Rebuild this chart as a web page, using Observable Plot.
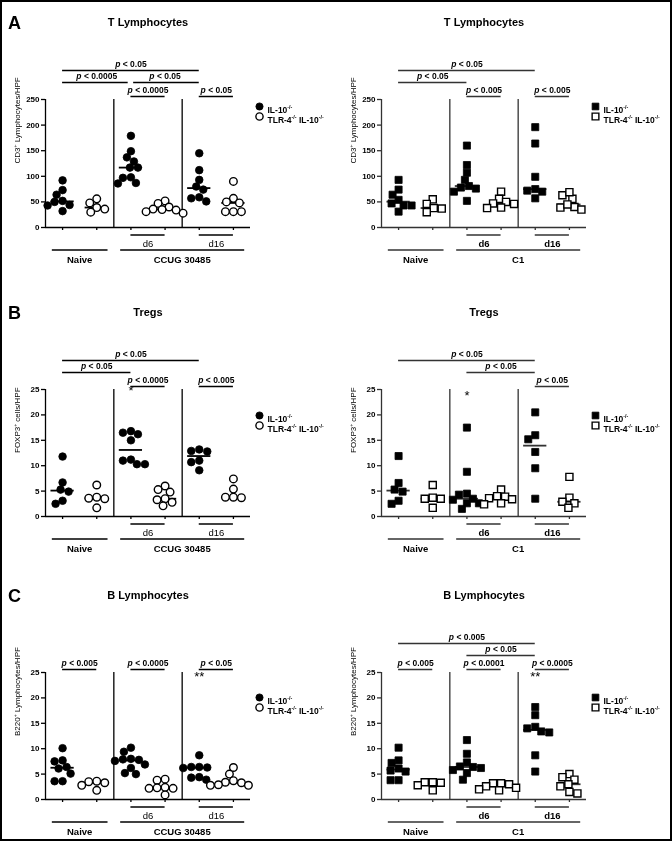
<!DOCTYPE html>
<html>
<head>
<meta charset="utf-8">
<script src="https://cdn.jsdelivr.net/npm/d3@7"></script>
<script src="https://cdn.jsdelivr.net/npm/@observablehq/plot@0.6"></script>
<style>
  body { margin: 0; background: #fff; }
  #fig { position: relative; width: 672px; height: 841px; overflow: hidden; background: #fff;
         font-family: "Liberation Sans", Arial, sans-serif; }
  #frame { position: absolute; left: 0; top: 0; width: 672px; height: 841px; box-sizing: border-box;
           border: 2px solid #000; pointer-events: none; }
  .panel { position: absolute; will-change: transform; }
</style>
</head>
<body>
<div id="fig"><div id="frame"></div></div>
<script>
// ---------- DATA ----------
// group order: Naive IL-10-/-, Naive TLR-4-/- IL-10-/-, d6 IL-10, d6 TLR-4, d16 IL-10, d16 TLR-4
const groupNames = ["Naive IL-10-/-", "Naive TLR-4-/- IL-10-/-", "d6 IL-10-/-", "d6 TLR-4-/- IL-10-/-", "d16 IL-10-/-", "d16 TLR-4-/- IL-10-/-"];

const cd3_ccug = [
  [92, 64, 73, 52, 50, 43, 44, 32],
  [56, 48, 39, 36, 30],
  [179, 149, 137, 129, 117, 117, 98, 86, 87, 97],
  [52, 47, 40, 36, 35, 31, 28, 34],
  [145, 112, 93, 80, 74, 59, 57, 51],
  [90, 57, 50, 48, 31, 31, 31]
];
const cd3_c1 = [
  [93, 74, 64, 54, 47, 43, 43, 31],
  [55, 46, 38, 37, 30],
  [160, 122, 107, 93, 81, 76, 70, 78, 52],
  [70, 56, 50, 47, 46, 39, 38],
  [196, 164, 99, 75, 70, 72, 57],
  [63, 56, 69, 40, 35, 39, 45]
];
const foxp3_ccug = [
  [11.8, 6.7, 5.3, 4.9, 3.1, 2.5],
  [6.2, 3.6, 3.5, 3.8, 1.7],
  [16.5, 16.2, 16.8, 15.0, 11.0, 10.3, 10.3, 11.2],
  [6.0, 5.3, 4.8, 3.5, 3.3, 2.8, 2.1],
  [13.2, 12.8, 12.9, 11.0, 10.7, 9.1],
  [7.4, 5.4, 3.8, 3.8, 3.7]
];
const foxp3_c1 = [
  [11.9, 6.6, 5.3, 4.9, 3.1, 2.5],
  [6.2, 3.5, 3.5, 3.7, 1.7],
  [17.5, 8.8, 4.3, 4.5, 3.5, 3.3, 2.6, 2.6, 1.5],
  [5.3, 4.0, 3.9, 3.6, 3.4, 2.6, 2.4],
  [20.5, 16.0, 15.2, 12.7, 9.5, 3.5],
  [7.8, 3.7, 2.9, 2.6, 1.7]
];
const b220_ccug = [
  [10.1, 7.7, 7.5, 6.4, 6.1, 5.1, 3.6, 3.6],
  [3.5, 3.6, 3.3, 2.8, 1.8],
  [10.2, 9.4, 8.0, 7.9, 7.8, 7.6, 6.9, 6.2, 5.2, 5.0],
  [4.0, 3.8, 2.4, 2.2, 2.2, 2.3, 0.9],
  [8.7, 6.4, 6.3, 6.4, 6.2, 4.4, 3.9, 4.3],
  [6.3, 5.0, 3.7, 3.4, 3.3, 2.9, 2.8, 2.8]
];
const b220_c1 = [
  [10.2, 7.7, 7.2, 6.1, 5.7, 5.5, 3.8, 3.8],
  [3.3, 3.4, 3.4, 2.8, 1.8],
  [11.7, 9.0, 7.3, 6.5, 6.4, 6.2, 5.8, 5.2, 3.9],
  [3.2, 3.0, 3.2, 2.6, 2.3, 2.0, 1.8],
  [18.2, 16.6, 14.3, 14.0, 13.4, 13.2, 8.7, 5.5],
  [5.0, 4.4, 3.9, 3.0, 2.6, 1.5, 1.2]
];

// significance brackets: [from group, to group, stacking level, label]
const cd3_ccug_p = [[0, 4, 3, "p < 0.05"], [0, 2, 2, "p < 0.0005"], [2, 4, 2, "p < 0.05"], [2, 3, 1, "p < 0.0005"], [4, 5, 1, "p < 0.05"]];
const cd3_c1_p = [[0, 4, 3, "p < 0.05"], [0, 2, 2, "p < 0.05"], [2, 3, 1, "p < 0.005"], [4, 5, 1, "p < 0.005"]];
const foxp3_ccug_p = [[0, 4, 3, "p < 0.05"], [0, 2, 2, "p < 0.05"], [2, 3, 1, "p < 0.0005"], [4, 5, 1, "p < 0.005"]];
const foxp3_c1_p = [[0, 4, 3, "p < 0.05"], [2, 4, 2, "p < 0.05"], [4, 5, 1, "p < 0.05"]];
const b220_ccug_p = [[0, 1, 1, "p < 0.005"], [2, 3, 1, "p < 0.0005"], [4, 5, 1, "p < 0.05"]];
const b220_c1_p = [[0, 4, 3, "p < 0.005"], [2, 4, 2, "p < 0.05"], [0, 1, 1, "p < 0.005"], [2, 3, 1, "p < 0.0001"], [4, 5, 1, "p < 0.0005"]];

// asterisks: [group, label]
const foxp3_ccug_star = [[2, "*"]];
const foxp3_c1_star = [[2, "*"]];
const b220_ccug_star = [[4, "**"]];
const b220_c1_star = [[4, "**"]];

// bottom labels
const timeLabels = [[2, 3, "d6"], [4, 5, "d16"]];
const ccugGroups = [[0, 1, "Naive"], [2, 5, "CCUG 30485"]];
const c1Groups = [[0, 1, "Naive"], [2, 5, "C1"]];

const legendLabels = ["IL-10^{-/-}", "TLR-4^{-/-} IL-10^{-/-}"];
const titles = ["T Lymphocytes", "Tregs", "B Lymphocytes"];
const yLabels = ["CD3^{+} Lymphocytes/HPF", "FOXP3^{+} cells/HPF", "B220^{+} Lymphocytes/HPF"];
const yTicksA = [0, 50, 100, 150, 200, 250];
const yTicksBC = [0, 5, 10, 15, 20, 25];

// ---------- PANEL SETUP ----------
const panels = [
  {letter: "A", title: titles[0], yLabel: yLabels[0], values: cd3_ccug, brackets: cd3_ccug_p, stars: [], starDy: 0, ticks: yTicksA, groups: ccugGroups, symbol: "circle", left: 0, top: 0, height: 280, mt: 99, mb: 53, legendDy: 7, color: "#000", subWeight: "normal"},
  {letter: "", title: titles[0], yLabel: yLabels[0], values: cd3_c1, brackets: cd3_c1_p, stars: [], starDy: 0, ticks: yTicksA, groups: c1Groups, symbol: "square", left: 336, top: 0, height: 280, mt: 99, mb: 53, legendDy: 7, color: "#333", subWeight: "bold"},
  {letter: "B", title: titles[1], yLabel: yLabels[1], values: foxp3_ccug, brackets: foxp3_ccug_p, stars: foxp3_ccug_star, starDy: 1.5, ticks: yTicksBC, groups: ccugGroups, symbol: "circle", left: 0, top: 280, height: 280, mt: 109, mb: 44, legendDy: 26, color: "#000", subWeight: "normal"},
  {letter: "", title: titles[1], yLabel: yLabels[1], values: foxp3_c1, brackets: foxp3_c1_p, stars: foxp3_c1_star, starDy: 6, ticks: yTicksBC, groups: c1Groups, symbol: "square", left: 336, top: 280, height: 280, mt: 109, mb: 44, legendDy: 26, color: "#333", subWeight: "bold"},
  {letter: "C", title: titles[2], yLabel: yLabels[2], values: b220_ccug, brackets: b220_ccug_p, stars: b220_ccug_star, starDy: 4, ticks: yTicksBC, groups: ccugGroups, symbol: "circle", left: 0, top: 560, height: 281, mt: 112, mb: 42, legendDy: 25, color: "#000", subWeight: "normal"},
  {letter: "", title: titles[2], yLabel: yLabels[2], values: b220_c1, brackets: b220_c1_p, stars: b220_c1_star, starDy: 4, ticks: yTicksBC, groups: c1Groups, symbol: "square", left: 336, top: 560, height: 281, mt: 112, mb: 42, legendDy: 25, color: "#333", subWeight: "bold"}
];

// deterministic swarm: spread points of similar value sideways (pixel units)
function swarm(values, pxPerUnit, diam, step) {
  const order = d3.range(values.length).sort((a, b) => values[b] - values[a]);
  const placed = [];
  const off = new Array(values.length);
  for (const i of order) {
    const y = values[i] * pxPerUnit;
    for (let k = 0; k < 400; k++) {
      const c = k === 0 ? 0 : (k % 2 ? -Math.ceil(k / 2) * step : Math.ceil(k / 2) * step);
      if (placed.every(p => (p.x - c) ** 2 + (p.y - y) ** 2 >= diam * diam)) {
        off[i] = c; placed.push({x: c, y}); break;
      }
    }
  }
  return off;
}

function makePanel(cfg) {
  const W = 336, H = cfg.height, mL = 45, mR = 86;
  const yMax = cfg.ticks[cfg.ticks.length - 1];
  const pxCat = (W - mL - mR) / 6;
  const pxY = (H - cfg.mt - cfg.mb) / yMax;
  const col = cfg.color;
  const sw = 1.3;
  const r = cfg.symbol === "circle" ? 3.8 : 4.0;

  const pts = [];
  cfg.values.forEach((vals, g) => {
    const off = swarm(vals, pxY, 7.3, 1);
    vals.forEach((v, i) => pts.push({g, v, x: g + off[i] / pxCat, filled: g % 2 === 0}));
  });
  const meds = cfg.values.map((vals, g) => ({g, m: d3.median(vals)}));

  const br = cfg.brackets.map(([a, b, l, t]) => ({a, b, l, t}));
  br.forEach(d => {
    d.x1 = d.a + (br.some(o => o !== d && o.l === d.l && o.b === d.a) ? 0.08 : 0);
    d.x2 = d.b - (br.some(o => o !== d && o.l === d.l && o.a === d.b) ? 0.08 : 0);
  });
  const levelOff = {1: 3, 2: 17, 3: 29};
  const topY = () => yMax;
  const zeroY = () => 0;

  const marks = [
    Plot.ruleY(meds, {y: "m", x1: d => d.g - 0.34, x2: d => d.g + 0.34, stroke: col, strokeWidth: 1.8}),
    Plot.ruleX([1.5, 3.5], {stroke: col, strokeWidth: sw}),
    Plot.ruleX([-0.5], {stroke: col, strokeWidth: sw}),
    Plot.ruleY([0], {stroke: col, strokeWidth: sw}),
    Plot.axisY({ticks: cfg.ticks, tickSize: 4, tickPadding: 2, fontSize: 8, fontWeight: "bold", stroke: col, strokeWidth: sw, fill: "#000", label: null}),
    Plot.axisX({ticks: [0, 1, 2, 3, 4, 5], tickSize: 3, tickFormat: () => "", stroke: col, strokeWidth: sw, label: null}),
    Plot.dot(pts.filter(d => d.filled), {x: "x", y: "v", r, symbol: cfg.symbol, fill: "#000", stroke: "#000", strokeWidth: 0.8}),
    Plot.dot(pts.filter(d => !d.filled), {x: "x", y: "v", r, symbol: cfg.symbol, fill: "#fff", stroke: "#000", strokeWidth: 1.4}),
    // title, letter, y label
    Plot.text([cfg.title], {frameAnchor: "top", dy: -81, fontSize: 11, fontWeight: "bold", letterSpacing: 0.9, fill: "#000"}),
    Plot.text([cfg.yLabel], {frameAnchor: "left", dx: -28, rotate: -90, fontSize: 8, fill: "#000"})
  ];
  if (cfg.letter) marks.push(Plot.text([cfg.letter], {frameAnchor: "top-left", dx: -31, dy: -83, fontSize: 18, fontWeight: "bold", textAnchor: "middle", fill: "#000"}));

  // legend
  [0, 1].forEach(k => {
    marks.push(Plot.dot([k], {frameAnchor: "top-right", dx: 9, dy: cfg.legendDy + k * 10, r: r * 0.95, symbol: cfg.symbol,
      fill: k === 0 ? "#000" : "#fff", stroke: "#000", strokeWidth: k === 0 ? 0.8 : 1.4}));
    marks.push(Plot.text([legendLabels[k]], {frameAnchor: "top-right", dx: 17, dy: cfg.legendDy + k * 10, textAnchor: "start",
      fontSize: 8.5, fontWeight: "bold", letterSpacing: 0.6, fill: "#000"}));
  });

  // significance brackets
  [1, 2, 3].forEach(L => {
    const sub = br.filter(d => d.l === L);
    if (!sub.length) return;
    marks.push(Plot.ruleY(sub, {y: topY, x1: "x1", x2: "x2", dy: -levelOff[L], stroke: col, strokeWidth: sw}));
    marks.push(Plot.text(sub, {x: d => (d.a + d.b) / 2, y: topY, text: "t", dy: -levelOff[L] - 6.5, fontSize: 8.5, fontWeight: "bold", letterSpacing: 0.5, fill: "#000"}));
  });
  if (cfg.stars.length) marks.push(Plot.text(cfg.stars, {x: d => d[0], y: topY, text: d => d[1], dy: cfg.starDy, fontSize: 13, fill: "#000"}));

  // bottom labels
  marks.push(Plot.ruleY(timeLabels, {y: zeroY, x1: d => d[0], x2: d => d[1], dy: 7.5, stroke: col, strokeWidth: sw}));
  marks.push(Plot.text(timeLabels, {x: d => (d[0] + d[1]) / 2, y: zeroY, text: d => d[2], dy: 16, fontSize: 9.5, fontWeight: cfg.subWeight, letterSpacing: 1, fill: "#000"}));
  marks.push(Plot.ruleY(cfg.groups, {y: zeroY, x1: d => d[0] - 0.3, x2: d => d[1] + 0.33, dy: 22.5, stroke: col, strokeWidth: sw}));
  marks.push(Plot.text(cfg.groups, {x: d => (d[0] + d[1]) / 2, y: zeroY, text: d => d[2], dy: 32, fontSize: 9.5, fontWeight: "bold", letterSpacing: 1.3, fill: "#000"}));

  const svg = Plot.plot({
    width: W, height: H,
    marginLeft: mL, marginRight: mR, marginTop: cfg.mt, marginBottom: cfg.mb,
    x: {domain: [-0.5, 5.5], axis: null},
    y: {domain: [0, yMax], axis: null},
    style: {fontFamily: "'Liberation Sans', Arial, sans-serif", fontSize: "8px", color: "#000", background: "transparent", overflow: "visible"},
    marks
  });
  svg.classList.add("panel");
  svg.style.left = cfg.left + "px";
  svg.style.top = cfg.top + "px";
  return svg;
}

// italic "p" and superscripts inside text elements
function richText(root) {
  const NS = "http://www.w3.org/2000/svg";
  root.querySelectorAll("text").forEach(el => {
    if (el.querySelector("tspan")) return;
    const s = el.textContent;
    const italicP = /^p </.test(s);
    if (!italicP && !s.includes("^{")) return;
    const fs = parseFloat(getComputedStyle(el).fontSize) || 8;
    el.textContent = "";
    let rest = s;
    if (italicP) {
      const t = document.createElementNS(NS, "tspan");
      t.setAttribute("font-style", "italic");
      t.textContent = "p";
      el.appendChild(t);
      rest = s.slice(1);
    }
    const parts = rest.split(/\^\{([^}]*)\}/);
    let shift = 0;
    parts.forEach((p, i) => {
      if (!p) return;
      const sup = i % 2 === 1;
      const want = sup ? -0.4 * fs : 0;
      const t = document.createElementNS(NS, "tspan");
      if (want !== shift) t.setAttribute("dy", (want - shift).toFixed(2));
      if (sup) t.setAttribute("font-size", (0.62 * fs).toFixed(2));
      t.textContent = p;
      el.appendChild(t);
      shift = want;
    });
  });
}

const fig = document.getElementById("fig");
const frame = document.getElementById("frame");
panels.forEach(cfg => fig.insertBefore(makePanel(cfg), frame));
richText(fig);
</script>
</body>
</html>
